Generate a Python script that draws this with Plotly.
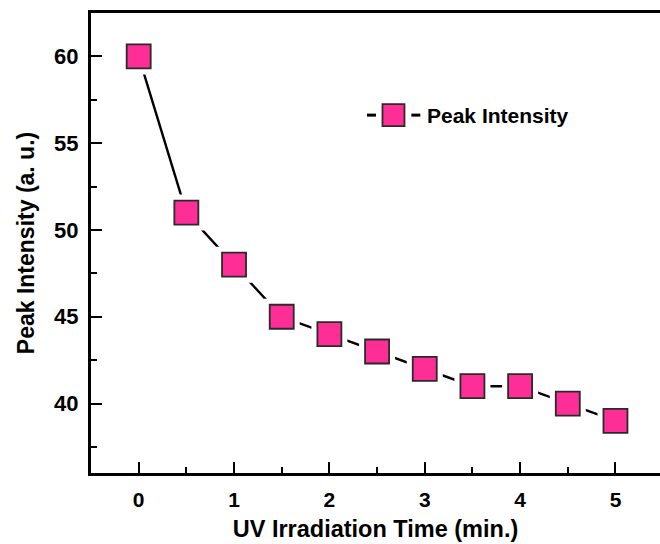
import plotly.graph_objects as go

time_min = [0, 0.5, 1, 1.5, 2, 2.5, 3, 3.5, 4, 4.5, 5]
peak_intensity = [60, 51, 48, 45, 44, 43, 42, 41, 41, 40, 39]
x_ticks = [0, 1, 2, 3, 4, 5]
y_ticks = [40, 45, 50, 55, 60]
series_name = "Peak Intensity"

PINK = "#FF2E97"
EDGE = "#2a2a2a"
BOLD = "Liberation Sans"

fig = go.Figure()
# connecting line
fig.add_trace(go.Scatter(x=time_min, y=peak_intensity, mode="lines",
                         line=dict(color="black", width=2.4), showlegend=False, hoverinfo="skip"))
# white halos to create gaps around markers
fig.add_trace(go.Scatter(x=time_min, y=peak_intensity, mode="markers",
                         marker=dict(symbol="square", size=36, color="white", line=dict(width=0)),
                         showlegend=False, hoverinfo="skip"))
# pink markers
fig.add_trace(go.Scatter(x=time_min, y=peak_intensity, mode="markers", name=series_name,
                         marker=dict(symbol="square", size=24, color=PINK, line=dict(color=EDGE, width=1.8)),
                         showlegend=False))

# manual legend (line segments, square symbol, label) in paper coordinates
leg_y = 0.778
shapes = [
    dict(type="line", xref="paper", yref="paper", xsizemode="pixel", xanchor=0.485,
         x0=0, x1=9, y0=leg_y, y1=leg_y, line=dict(color="black", width=3)),
    dict(type="line", xref="paper", yref="paper", xsizemode="pixel", xanchor=0.563,
         x0=0, x1=9, y0=leg_y, y1=leg_y, line=dict(color="black", width=3)),
    dict(type="rect", xref="paper", yref="paper", xsizemode="pixel", ysizemode="pixel",
         xanchor=0.5316, yanchor=leg_y, x0=-11, x1=11, y0=-11, y1=11,
         fillcolor=PINK, line=dict(color=EDGE, width=1.8)),
]
annotations = [
    dict(text=series_name, xref="paper", yref="paper", x=0.587, y=leg_y,
         xanchor="left", yanchor="middle", showarrow=False,
         font=dict(family=BOLD, size=21, color="black", weight="bold")),
]

fig.update_layout(
    width=660, height=544,
    margin=dict(l=91, r=0, t=13, b=71),
    plot_bgcolor="white", paper_bgcolor="white",
    showlegend=False,
    shapes=shapes, annotations=annotations,
    xaxis=dict(
        range=[-0.5, 5.467], tickvals=x_ticks, ticktext=[str(v) for v in x_ticks],
        showgrid=False, zeroline=False,
        showline=True, linecolor="black", linewidth=3, mirror=True,
        ticks="inside", ticklen=11, tickwidth=2, tickcolor="black",
        minor=dict(ticks="inside", ticklen=6, tickwidth=2, tickcolor="black", dtick=0.5, tick0=0.5),
        tickfont=dict(family=BOLD, size=21, color="black", weight="bold"),
        ticklabelstandoff=6,
        title=dict(text="UV Irradiation Time (min.)", standoff=11,
                   font=dict(family=BOLD, size=23.5, color="black", weight="bold")),
    ),
    yaxis=dict(
        range=[36, 62.5], tickvals=y_ticks, ticktext=[str(v) for v in y_ticks],
        showgrid=False, zeroline=False,
        showline=True, linecolor="black", linewidth=3, mirror=False,
        ticks="inside", ticklen=11, tickwidth=2, tickcolor="black",
        minor=dict(ticks="inside", ticklen=6, tickwidth=2, tickcolor="black", dtick=5, tick0=37.5),
        tickfont=dict(family=BOLD, size=22, color="black", weight="bold"),
        ticklabelstandoff=5,
        title=dict(text="Peak Intensity (a. u.)", standoff=14,
                   font=dict(family=BOLD, size=23, color="black", weight="bold")),
    ),
)

fig.write_html("out.html")
